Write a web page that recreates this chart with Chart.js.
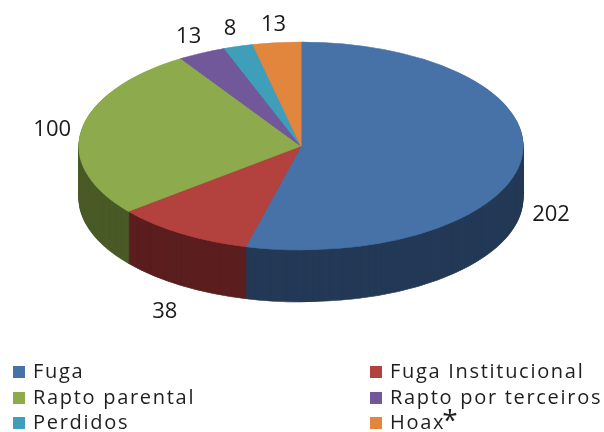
<!DOCTYPE html>
<html>
<head>
<meta charset="utf-8">
<script src="https://cdn.jsdelivr.net/npm/chart.js@4.4.0/dist/chart.umd.min.js"></script>
<style>
html, body { margin: 0; padding: 0; background: #fff; }
#wrap { position: relative; width: 604px; height: 432px; overflow: hidden; }
#chartId { position: absolute; left: 0; top: 0; }
.leg { position: absolute; font-family: "Open Sans", sans-serif; font-size: 20px; color: #1e1e1e;
       letter-spacing: 1.7px; line-height: 26px; height: 26px; white-space: nowrap; }
.leg .sw { display: inline-block; width: 12px; height: 12px; margin-right: 8px; vertical-align: 0px; }
.leg .ast { font-size: 28px; position: relative; top: 1px; margin-left: -3px; line-height: 0; letter-spacing: 0; }
</style>
</head>
<body>
<div id="wrap">
  <canvas id="chartId" width="604" height="432"></canvas>
</div>
<script>
var categories = ['Fuga', 'Fuga Institucional', 'Rapto parental', 'Rapto por terceiros', 'Perdidos', 'Hoax'];
var values = [202, 38, 100, 13, 8, 13];
var topColors = ['#4672A8', '#B3423F', '#8DAA4C', '#71589A', '#3F9FBB', '#E2853D'];
var sideColors = ['#243A57', '#5C1F1F', '#4A5B27', '#3D2C55', '#1F5868', '#7A4519'];

// where the flattened pie sits
var CX = 301, CY = 146, RX = 222, RY = 104, DEPTH = 52;

var pie3d = {
  id: 'pie3d',
  beforeDatasetsDraw: function (chart) {
    const ctx = chart.ctx;
    const arcs = chart.getDatasetMeta(0).data;
    if (!arcs.length) return false;
    const x0 = arcs[0].x, y0 = arcs[0].y, R = arcs[0].outerRadius;
    const layer = function (dy, colors) {
      ctx.save();
      ctx.translate(CX, CY + dy);
      ctx.scale(RX / R, RY / R);
      ctx.translate(-x0, -y0);
      arcs.forEach(function (arc, i) {
        const o = arc.options;
        if (colors) {
          arc.options = Object.assign({}, o, { backgroundColor: colors[i], borderColor: colors[i] });
        }
        arc.draw(ctx);
        arc.options = o;
      });
      ctx.restore();
    };
    for (let d = DEPTH; d > 0; d--) layer(d, sideColors);
    layer(0, null);
    return false;
  },
  afterDraw: function (chart) {
    const ctx = chart.ctx;
    const arcs = chart.getDatasetMeta(0).data;
    ctx.save();
    ctx.font = '22px "Open Sans"';
    ctx.fillStyle = '#1a1a1a';
    ctx.textAlign = 'center';
    ctx.textBaseline = 'middle';
    arcs.forEach(function (arc, i) {
      const a = (arc.startAngle + arc.endAngle) / 2;
      const s = Math.sin(a), c = Math.cos(a);
      const x = CX + (RX + 30) * c;
      const y = s > 0 ? CY + (RY + 31) * s + DEPTH : CY + (RY + 22) * s + 4;
      ctx.fillText(String(values[i]), x, y);
    });
    ctx.restore();
  }
};

new Chart(document.getElementById('chartId').getContext('2d'), {
  type: 'pie',
  data: {
    labels: categories,
    datasets: [{
      data: values,
      backgroundColor: topColors,
      borderColor: topColors,
      borderWidth: 1,
      clip: false
    }]
  },
  options: {
    responsive: false,
    animation: false,
    plugins: {
      legend: { display: false },
      tooltip: { enabled: false }
    }
  },
  plugins: [pie3d]
});

// legend, two columns
var wrap = document.getElementById('wrap');
categories.forEach(function (name, i) {
  const el = document.createElement('div');
  el.className = 'leg';
  el.style.left = (i % 2 ? 370 : 13) + 'px';
  el.style.top = (358 + Math.floor(i / 2) * 25.5) + 'px';
  el.innerHTML = '<span class="sw" style="background:' + topColors[i] + '"></span>' + name +
    (name === 'Hoax' ? '<span class="ast">*</span>' : '');
  wrap.appendChild(el);
});
</script>
</body>
</html>
